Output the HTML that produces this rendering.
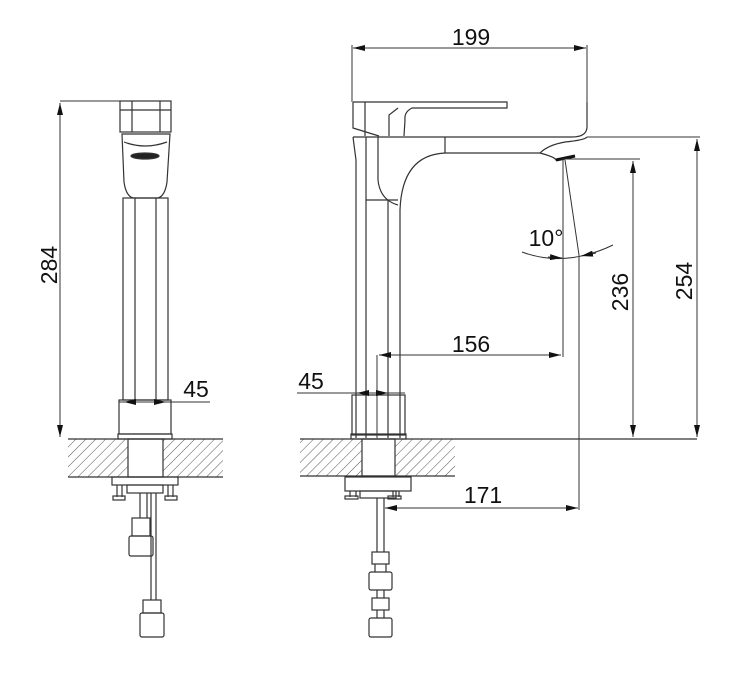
<!DOCTYPE html>
<html><head><meta charset="utf-8"><style>
html,body{margin:0;padding:0;background:#fff;}
svg{display:block;}
text{font-family:"Liberation Sans",sans-serif;font-size:23px;fill:#111;}
</style></head><body>
<svg width="750" height="678" viewBox="0 0 750 678" xmlns="http://www.w3.org/2000/svg">
<defs>
<pattern id="h" width="7" height="7" patternUnits="userSpaceOnUse" patternTransform="rotate(45)">
<line x1="0" y1="0" x2="0" y2="7" stroke="#555" stroke-width="1"/>
</pattern>
<marker id="a" markerWidth="12" markerHeight="6" refX="12" refY="3" orient="auto" markerUnits="userSpaceOnUse">
<path d="M0,0 L12,3 L0,6 Z" fill="#111"/>
</marker>
<marker id="as" markerWidth="12" markerHeight="6" refX="0" refY="3" orient="auto" markerUnits="userSpaceOnUse">
<path d="M12,0 L0,3 L12,6 Z" fill="#111"/>
</marker>
</defs>
<g fill="none" stroke="#333" stroke-width="1.2">
<!-- LEFT VIEW -->
<rect x="120" y="101" width="51" height="31"/>
<line x1="132" y1="101" x2="132" y2="132"/><line x1="160" y1="101" x2="160" y2="132"/>
<line x1="120" y1="110" x2="171" y2="110"/>
<path d="M122,134 L170,134 L167,182 Q165,196 158,198 L133,198 Q126,196 124,182 Z"/>
<path d="M124,142 Q145,150 167,142"/>
<ellipse cx="145" cy="156" rx="14" ry="3" fill="#222"/>
<rect x="123" y="198" width="45" height="202"/>
<line x1="135" y1="198" x2="135" y2="400"/><line x1="156" y1="198" x2="156" y2="400"/>
<rect x="119" y="400" width="52" height="34"/>
<rect x="118" y="434" width="54" height="5"/>
<rect x="68" y="439" width="60" height="38" fill="url(#h)" stroke="none"/>
<rect x="163" y="439" width="60" height="38" fill="url(#h)" stroke="none"/>
<line x1="68" y1="439" x2="223" y2="439"/><line x1="68" y1="477" x2="223" y2="477"/>
<rect x="128" y="439" width="35" height="38"/>
<rect x="112" y="477" width="66" height="8"/>
<rect x="127" y="485" width="36" height="8"/>
<line x1="117" y1="485" x2="117" y2="497"/><line x1="122" y1="485" x2="122" y2="497"/>
<rect x="113" y="496" width="12" height="4"/>
<line x1="168" y1="485" x2="168" y2="497"/><line x1="173" y1="485" x2="173" y2="497"/>
<rect x="165" y="496" width="12" height="4"/>
<line x1="140" y1="493" x2="140" y2="518"/><line x1="147" y1="493" x2="147" y2="518"/>
<line x1="151" y1="493" x2="151" y2="600"/><line x1="156" y1="493" x2="156" y2="600"/>
<rect x="132" y="518" width="18" height="18"/><rect x="129" y="536" width="24" height="20" rx="2"/>
<rect x="143" y="600" width="18" height="13"/><rect x="140" y="613" width="24" height="24" rx="2"/>
<!-- left dims -->
<line x1="60" y1="101" x2="120" y2="101" stroke-width="1"/>
<line x1="60" y1="103" x2="60" y2="437" stroke-width="1" marker-start="url(#as)" marker-end="url(#a)"/>
<line x1="119" y1="402" x2="210" y2="402" stroke-width="1"/>
<line x1="140" y1="402" x2="124" y2="402" stroke-width="1" marker-end="url(#a)"/>
<line x1="150" y1="402" x2="166" y2="402" stroke-width="1" marker-end="url(#a)"/>

<!-- RIGHT VIEW -->
<path d="M353,102 L507,102 L507,108 L412,108 Q404,112 405,120 L404,136"/>
<path d="M353,102 L353,128 L379,136"/>
<line x1="365" y1="102" x2="365" y2="136"/>
<path d="M389,136 L389,115 L398,108"/>
<path d="M353,137 L572,137 Q588,137 587,125 L587,102"/>
<path d="M353,137 L356,160 L356,438"/>
<line x1="366" y1="137" x2="366" y2="438"/>
<path d="M378,137 L378,180 Q380,200 398,205"/>
<path d="M445,137 L445,153"/>
<path d="M400,438 L400,210 Q402,155 445,153 L540,153 Q548,145 565,142 Q585,140 587,137"/>
<path d="M540,153 Q555,157 556,160 L575,156"/>
<path d="M556,160 L575,156" stroke-width="3" stroke="#111"/>
<line x1="366" y1="200" x2="398" y2="200"/>
<line x1="388" y1="200" x2="388" y2="438"/>
<rect x="352" y="395" width="53" height="40"/>
<rect x="351" y="434" width="55" height="5"/>
<rect x="300" y="439" width="62" height="37" fill="url(#h)" stroke="none"/>
<rect x="395" y="439" width="60" height="37" fill="url(#h)" stroke="none"/>
<line x1="300" y1="439" x2="697" y2="439"/><line x1="300" y1="476" x2="455" y2="476"/>
<rect x="362" y="439" width="33" height="37"/>
<rect x="345" y="477" width="66" height="14"/>
<rect x="360" y="491" width="36" height="7"/>
<line x1="350" y1="491" x2="350" y2="497"/><line x1="356" y1="491" x2="356" y2="497"/>
<rect x="345" y="496" width="13" height="3"/>
<line x1="393" y1="491" x2="393" y2="497"/><line x1="399" y1="491" x2="399" y2="497"/>
<rect x="388" y="496" width="13" height="3"/>
<line x1="377" y1="498" x2="377" y2="552"/><line x1="384" y1="498" x2="384" y2="552"/>
<rect x="372" y="552" width="17" height="12"/><rect x="369" y="572" width="23" height="18" rx="2"/>
<line x1="375" y1="564" x2="375" y2="572"/><line x1="386" y1="564" x2="386" y2="572"/>
<rect x="372" y="598" width="17" height="12"/><rect x="369" y="618" width="23" height="19" rx="2"/>
<line x1="377" y1="590" x2="377" y2="598"/><line x1="384" y1="590" x2="384" y2="598"/>
<line x1="377" y1="610" x2="377" y2="618"/><line x1="384" y1="610" x2="384" y2="618"/>
</g>
<g fill="none" stroke="#333" stroke-width="1">
<line x1="352" y1="45" x2="352" y2="102"/><line x1="587" y1="45" x2="587" y2="102"/>
<line x1="353" y1="48" x2="586" y2="48" marker-start="url(#as)" marker-end="url(#a)"/>
<line x1="587" y1="137" x2="700" y2="137"/>
<line x1="697" y1="139" x2="697" y2="437" marker-start="url(#as)" marker-end="url(#a)"/>
<line x1="565" y1="159" x2="640" y2="159"/>
<line x1="633" y1="161" x2="633" y2="437" marker-start="url(#as)" marker-end="url(#a)"/>
<line x1="563" y1="158" x2="563" y2="357"/>
<path d="M565,160 L579,255 L579,510"/>
<line x1="377" y1="355" x2="377" y2="438"/>
<line x1="379" y1="355" x2="561" y2="355" marker-start="url(#as)" marker-end="url(#a)"/>
<line x1="385" y1="508" x2="578" y2="508" marker-start="url(#as)" marker-end="url(#a)"/>
<line x1="297" y1="393" x2="405" y2="393"/>
<line x1="370" y1="393" x2="357" y2="393" marker-end="url(#a)"/>
<line x1="375" y1="393" x2="388" y2="393" marker-end="url(#a)"/>
<path d="M522,252 Q565,268 613,245"/>
<line x1="548" y1="257" x2="562" y2="258" marker-end="url(#a)"/>
<line x1="596" y1="253" x2="581" y2="256" marker-end="url(#a)"/>
</g>
<text x="471" y="45" text-anchor="middle">199</text>
<text x="471" y="352" text-anchor="middle">156</text>
<text x="483" y="503" text-anchor="middle">171</text>
<text x="311" y="389" text-anchor="middle">45</text>
<text x="196" y="397" text-anchor="middle">45</text>
<text x="546" y="246" text-anchor="middle">10°</text>
<text transform="translate(57,265) rotate(-90)" text-anchor="middle">284</text>
<text transform="translate(628,292) rotate(-90)" text-anchor="middle">236</text>
<text transform="translate(692,281) rotate(-90)" text-anchor="middle">254</text>
</svg>
</body></html>
